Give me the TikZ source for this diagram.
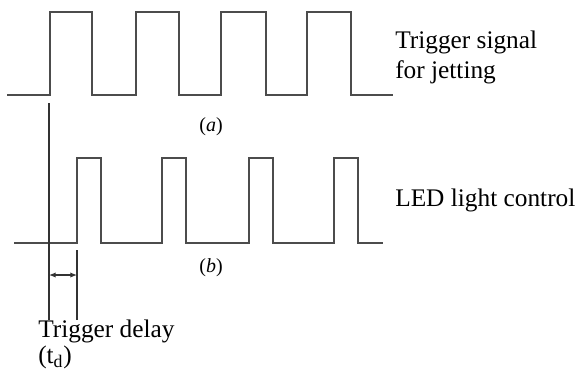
\documentclass[tikz,border=0pt]{standalone}
\usepackage{fontspec}
\setmainfont{Liberation Serif}
\usetikzlibrary{arrows.meta}
\begin{document}
\begin{tikzpicture}[x=0.75pt,y=-0.75pt,
  wave/.style={draw=black!70,line width=1.1pt,line join=miter},
  guide/.style={draw=black!80,line width=0.9pt},
  lbl/.style={font=\fontsize{19}{22}\selectfont,anchor=base west,inner sep=0pt},
  subcap/.style={font=\fontsize{15}{17}\selectfont,inner sep=0pt}]
\useasboundingbox (0,0) rectangle (578,379);
% trigger signal for jetting
\coordinate (ta) at (7,95);
\coordinate (tb) at (393,95);
\draw[wave] (ta) -- (50,95) -- (50,12) -- (92,12) -- (92,95) -- (136,95) -- (136,12)
  -- (179,12) -- (179,95) -- (221,95) -- (221,12) -- (266,12) -- (266,95)
  -- (307,95) -- (307,12) -- (351,12) -- (351,95) -- (tb);
% LED light control
\coordinate (la) at (14,243);
\coordinate (lb) at (383,243);
\draw[wave] (la) -- (77,243) -- (77,158) -- (101,158) -- (101,243) -- (162,243) -- (162,158)
  -- (186,158) -- (186,243) -- (249,243) -- (249,158) -- (273,158) -- (273,243)
  -- (334,243) -- (334,158) -- (358,158) -- (358,243) -- (lb);
% delay markers
\coordinate (g1t) at (49,103);
\coordinate (g1b) at (49,320);
\coordinate (g2t) at (77,250);
\coordinate (g2b) at (77,320);
\draw[guide] (g1t) -- (g1b);
\draw[guide] (g2t) -- (g2b);
\coordinate (d1) at (49,275);
\coordinate (d2) at (77,275);
\draw[guide,{Latex[length=5pt,width=4pt]}-{Latex[length=5pt,width=4pt]}] (d1) -- (d2);
% labels
\node[lbl] (trig1) at (395,48) {Trigger signal};
\node[lbl] (trig2) at (395,78) {for jetting};
\node[lbl] (led) at (395,206) {LED light control};
\node[subcap] (capa) at (211,127) {(\textit{a})};
\node[subcap] (capb) at (211,268) {(\textit{b})};
\node[lbl] (delay1) at (38,337) {Trigger delay};
\node[lbl] (delay2) at (38,363) {(t\textsubscript{d})};
\end{tikzpicture}
\end{document}
